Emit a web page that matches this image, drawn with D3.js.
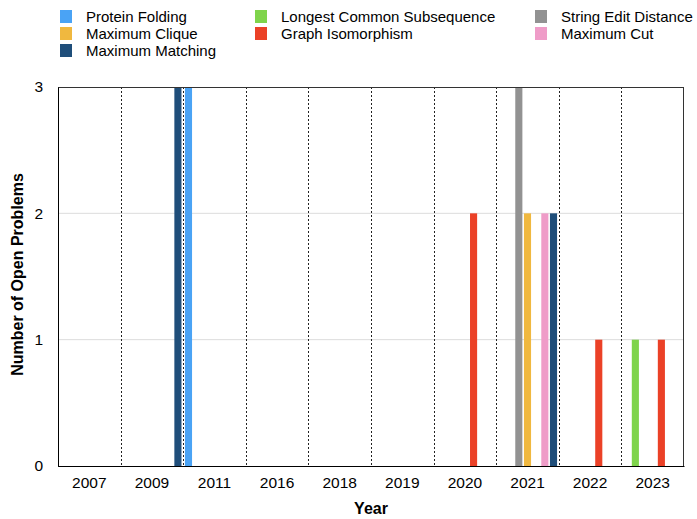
<!DOCTYPE html>
<html>
<head>
<meta charset="utf-8">
<script src="https://cdn.jsdelivr.net/npm/d3@7"></script>
<style>
  body { margin: 0; background: #fff; }
  text { font-family: "Liberation Sans", Arial, Helvetica, sans-serif; }
</style>
</head>
<body>
<svg id="chart"></svg>
<script>
const WIDTH = 697;
const HEIGHT = 519;
const MARGIN = {top: 87, right: 13, bottom: 53, left: 58}; // plot box 58..684 x 87..466

// data
const years = ["2007", "2009", "2011", "2016", "2018", "2019", "2020", "2021", "2022", "2023"];
const seriesNames = ["Protein Folding", "Longest Common Subsequence", "String Edit Distance",
                     "Maximum Clique", "Graph Isomorphism", "Maximum Cut", "Maximum Matching"];
const seriesColors = ["#4aa3f5", "#7fd44b", "#929292", "#f0b83f", "#eb4127", "#ef9cc8", "#1f4e7a"];
const proteinFolding   = [0, 0, 3, 0, 0, 0, 0, 0, 0, 0];
const longestCommon    = [0, 0, 0, 0, 0, 0, 0, 0, 0, 1];
const stringEdit       = [0, 0, 0, 0, 0, 0, 0, 3, 0, 0];
const maximumClique    = [0, 0, 0, 0, 0, 0, 0, 2, 0, 0];
const graphIso         = [0, 0, 0, 0, 0, 0, 2, 0, 1, 1];
const maximumCut       = [0, 0, 0, 0, 0, 0, 0, 2, 0, 0];
const maximumMatching  = [0, 3, 0, 0, 0, 0, 0, 2, 0, 0];
const yTicks = [0, 1, 2, 3];

const seriesValues = [proteinFolding, longestCommon, stringEdit, maximumClique,
                      graphIso, maximumCut, maximumMatching];

const plotW = WIDTH - MARGIN.left - MARGIN.right;
const plotH = HEIGHT - MARGIN.top - MARGIN.bottom;

const svg = d3.select("#chart")
  .attr("width", WIDTH)
  .attr("height", HEIGHT);

const x0 = d3.scaleBand() // one band per year
  .domain(years)
  .range([0, plotW])
  .padding(0);

const x1 = d3.scaleBand() // one slot per series inside a year
  .domain(seriesNames)
  .range([0, x0.bandwidth()])
  .paddingInner(0.18)
  .paddingOuter(0.2);

const y = d3.scaleLinear()
  .domain([0, 3])
  .range([plotH, 0]);

const g = svg.append("g")
  .attr("transform", "translate(" + MARGIN.left + "," + MARGIN.top + ")");

// light horizontal gridlines
g.selectAll(".hgrid")
  .data(yTicks.filter(t => t > 0 && t < 3))
  .enter()
  .append("line")
  .attr("x1", 0)
  .attr("x2", plotW)
  .attr("y1", d => y(d))
  .attr("y2", d => y(d))
  .attr("stroke", "#dcdcdc")
  .attr("stroke-width", 1);

// dotted separators between years
g.selectAll(".vgrid")
  .data(years.slice(1))
  .enter()
  .append("line")
  .attr("x1", d => Math.round(x0(d)) + 0.5)
  .attr("x2", d => Math.round(x0(d)) + 0.5)
  .attr("y1", 0)
  .attr("y2", plotH)
  .attr("stroke", "#222")
  .attr("stroke-width", 1)
  .attr("stroke-dasharray", "2,2");

// bars
const bars = [];
seriesNames.forEach((name, i) => {
  seriesValues[i].forEach((v, j) => {
    if (v > 0) bars.push({series: name, year: years[j], value: v, color: seriesColors[i]});
  });
});

g.selectAll(".bar")
  .data(bars)
  .enter()
  .append("rect")
  .attr("class", "bar")
  .attr("x", d => x0(d.year) + x1(d.series))
  .attr("y", d => y(d.value))
  .attr("width", x1.bandwidth())
  .attr("height", d => plotH - y(d.value))
  .attr("fill", d => d.color);

// plot frame
g.append("rect")
  .attr("x", 0.5)
  .attr("y", 0.5)
  .attr("width", plotW - 1)
  .attr("height", plotH)
  .attr("fill", "none")
  .attr("stroke", "#333")
  .attr("stroke-width", 1);

// x axis (labels only, centred on each year)
const xAxis = d3.axisBottom(x0).tickSize(0).tickPadding(11);
const xg = g.append("g")
  .attr("transform", "translate(0," + plotH + ")")
  .call(xAxis);
xg.select(".domain").attr("stroke", "#000");
xg.selectAll("text")
  .attr("font-size", 15.5)
  .attr("fill", "#000")
  .style("font-family", "Liberation Sans, Arial, sans-serif");

// y axis
const yAxis = d3.axisLeft(y).tickValues(yTicks).tickSize(0).tickPadding(15).tickFormat(d3.format("d"));
const yg = g.append("g").call(yAxis);
yg.select(".domain").attr("stroke", "#000");
yg.selectAll("text")
  .attr("font-size", 15.5)
  .attr("fill", "#000")
  .style("font-family", "Liberation Sans, Arial, sans-serif");

// axis titles
svg.append("text")
  .attr("x", MARGIN.left + plotW / 2)
  .attr("y", 514)
  .attr("text-anchor", "middle")
  .attr("font-size", 16)
  .attr("font-weight", "bold")
  .text("Year");

svg.append("text")
  .attr("transform", "translate(23," + (MARGIN.top + plotH / 2 - 2) + ") rotate(-90)")
  .attr("text-anchor", "middle")
  .attr("font-size", 16)
  .attr("font-weight", "bold")
  .text("Number of Open Problems");

// legend, three columns filled row by row
const legendCols = [60, 255, 535];
const legend = svg.selectAll(".legend")
  .data(seriesNames)
  .enter()
  .append("g")
  .attr("transform", (d, i) => "translate(" + legendCols[i % 3] + "," + (10 + Math.floor(i / 3) * 17) + ")");

legend.append("rect")
  .attr("width", 12)
  .attr("height", 13)
  .attr("fill", (d, i) => seriesColors[i]);

legend.append("text")
  .attr("x", 26)
  .attr("y", 12)
  .attr("font-size", 15)
  .attr("fill", "#000")
  .text(d => d);
</script>
</body>
</html>
